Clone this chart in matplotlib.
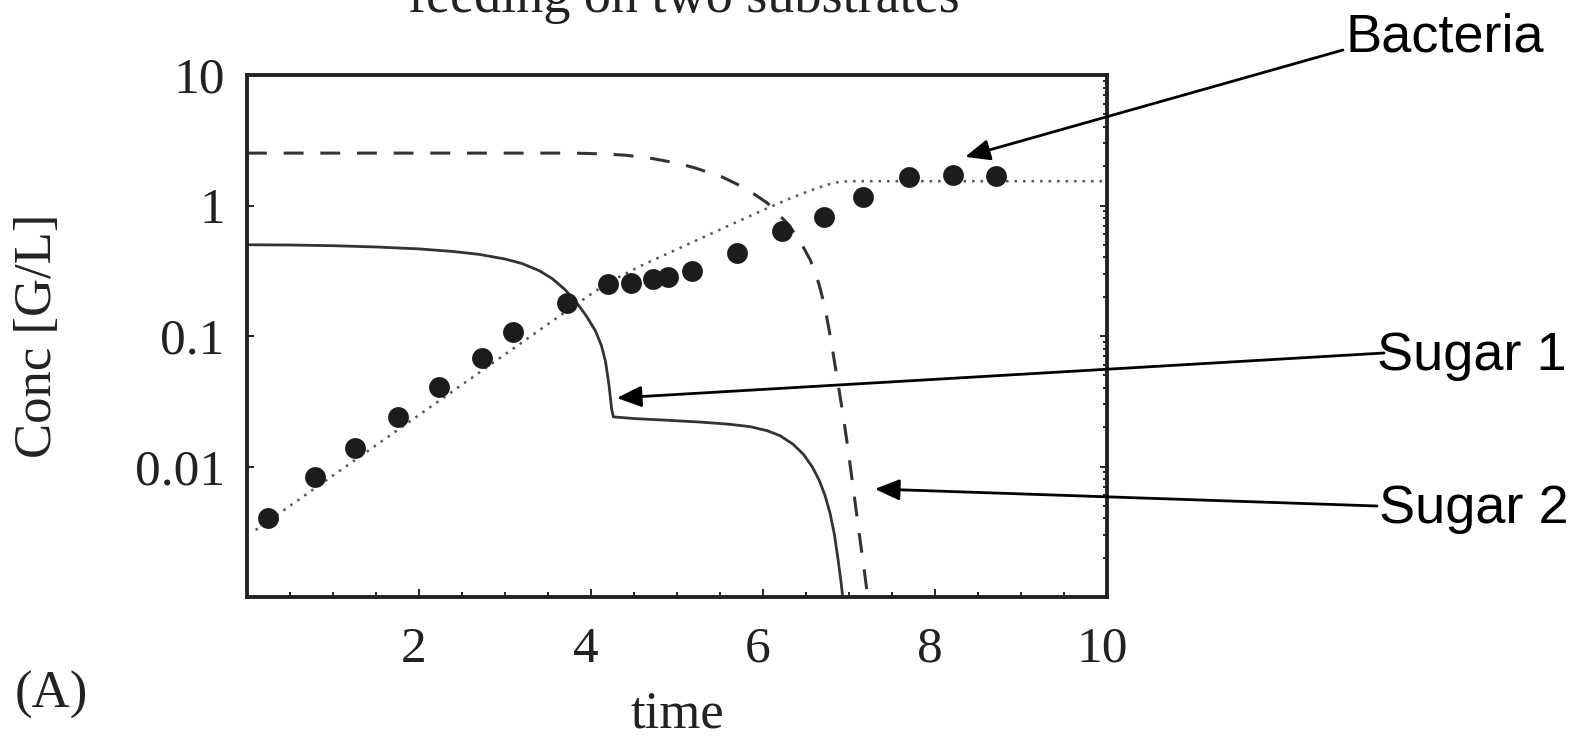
import matplotlib
matplotlib.use("Agg")
import matplotlib.pyplot as plt
from matplotlib.ticker import MultipleLocator, LogLocator, NullFormatter
from matplotlib.transforms import ScaledTranslation

plt.rcParams['font.family'] = ['Liberation Serif', 'DejaVu Serif']

# measured bacteria concentrations
bact_t = [0.24, 0.79, 1.26, 1.76, 2.23, 2.73, 3.09, 3.72, 4.20, 4.47,
          4.72, 4.90, 5.17, 5.70, 6.22, 6.71, 7.16, 7.70, 8.21, 8.71]
bact_c = [0.0040, 0.0083, 0.0139, 0.0239, 0.0406, 0.0677, 0.107, 0.179, 0.250, 0.255,
          0.273, 0.283, 0.315, 0.432, 0.638, 0.817, 1.16, 1.65, 1.71, 1.68]

# model curve for the bacteria (dotted)
model_t = [0.1, 1.0, 2.0, 3.0, 3.8, 4.2, 4.6, 5.0, 5.5, 6.0, 6.3, 6.55, 6.75, 6.88, 7.0, 10.0]
model_c = [0.00326, 0.00853, 0.0248, 0.0723, 0.170, 0.257, 0.350, 0.462, 0.653, 0.923,
           1.122, 1.303, 1.445, 1.514, 1.535, 1.535]

# sugar 1 (solid)
sug1_t = [0.0, 0.5, 1.0, 1.5, 2.0, 2.4, 2.7, 3.0, 3.2, 3.4, 3.55, 3.7, 3.85, 3.95, 4.05,
          4.12, 4.17, 4.21, 4.24, 4.26, 4.5, 4.84, 5.27, 5.6, 5.85, 6.05, 6.2, 6.35, 6.47,
          6.57, 6.65, 6.72, 6.78, 6.83, 6.87, 6.91, 6.935]
sug1_c = [0.500, 0.498, 0.492, 0.481, 0.465, 0.444, 0.422, 0.389, 0.359, 0.316, 0.275, 0.226,
          0.174, 0.141, 0.110, 0.0851, 0.0631, 0.0417, 0.0275, 0.0240, 0.0233, 0.0227, 0.0219,
          0.0211, 0.0202, 0.0188, 0.0172, 0.0148, 0.0124, 0.0100, 0.00794, 0.00603, 0.00437,
          0.00302, 0.00200, 0.00126, 0.00089]

# sugar 2 (dashed)
sug2_t = [0.0, 3.8, 4.1, 4.4, 4.7, 5.0, 5.2, 5.53, 5.8, 6.05, 6.28, 6.42, 6.55, 6.65,
          6.72, 6.79, 6.86, 6.93, 6.99, 7.05, 7.12, 7.18, 7.23]
sug2_c = [2.52, 2.52, 2.49, 2.43, 2.30, 2.11, 1.95, 1.65, 1.35, 1.045, 0.734, 0.550, 0.382,
          0.251, 0.166, 0.0933, 0.0485, 0.0251, 0.0134, 0.00676, 0.00302, 0.00155, 0.00087]

x_ticks = [2, 4, 6, 8, 10]
y_ticks = [10, 1, 0.1, 0.01]
y_labels = ['10', '1', '0.1', '0.01']

W, H = 1590, 736


def fx(px):
    return px / W


def fy(py):
    return 1 - py / H


fig = plt.figure(figsize=(W / 100, H / 100), dpi=100)
ax = fig.add_axes([fx(247), fy(597), 860 / W, 522 / H])

ax.plot(sug1_t, sug1_c, color='#333333', lw=2.0, zorder=2)
ax.plot(sug2_t, sug2_c, color='#333333', lw=2.2, linestyle=(0, (6.5, 5.5)), zorder=2)
ax.plot(model_t, model_c, color='#555555', lw=1.8, linestyle=(0, (1, 2.4)), zorder=2)
ax.plot(bact_t, bact_c, 'o', color='#1c1c1c', markersize=15, markeredgewidth=0, zorder=3)

ax.set_yscale('log')
ax.set_xlim(0, 10)
ax.set_ylim(1e-3, 10)

ax.set_xticks(x_ticks, [str(v) for v in x_ticks])
ax.xaxis.set_minor_locator(MultipleLocator(0.5))
ax.set_yticks(y_ticks, y_labels)
ax.yaxis.set_minor_locator(LogLocator(base=10, subs=range(2, 10)))
ax.yaxis.set_minor_formatter(NullFormatter())

ax.tick_params(axis='both', which='both', direction='in', colors='#222222', width=1.4,
               labelsize=37)
ax.tick_params(axis='x', which='both', top=False, bottom=True, pad=21)
ax.tick_params(axis='x', which='major', length=6)
ax.tick_params(axis='x', which='minor', length=3.5)
ax.tick_params(axis='y', which='major', left=True, right=True, length=5, pad=16)
ax.tick_params(axis='y', which='minor', left=False, right=True, length=3)

# x labels sit a little left of their ticks
shift = ScaledTranslation(-5 / 100, 0, fig.dpi_scale_trans)
for lab in ax.get_xticklabels():
    lab.set_transform(lab.get_transform() + shift)

for sp in ax.spines.values():
    sp.set_linewidth(2.8)
    sp.set_color('#222222')

# axis labels and panel text
fig.text(fx(38), fy(336), 'Conc [G/L]', rotation=90, ha='center', va='center',
         fontsize=38, color='#222222')
fig.text(fx(677), fy(727), 'time', ha='center', va='baseline', fontsize=38, color='#222222')
fig.text(fx(15), fy(708), '(A)', ha='left', va='baseline', fontsize=38, color='#222222')
fig.text(fx(684), fy(12), 'feeding on two substrates', ha='center', va='baseline',
         fontsize=39, color='#222222')

# callouts
arrow = dict(arrowstyle='-|>,head_length=0.75,head_width=0.32', color='black', lw=2,
             shrinkA=0, shrinkB=0, mutation_scale=20)
callouts = [
    ('Bacteria', (8.35, 2.36), (1343, 50), (1345, 51)),
    ('Sugar 1', (4.30, 0.0335), (1384, 353), (1377, 370)),
    ('Sugar 2', (7.30, 0.00673), (1377, 506), (1379, 523)),
]
for label, tip, tail, pos in callouts:
    ax.annotate('', xy=tip, xycoords='data', xytext=(fx(tail[0]), fy(tail[1])),
                textcoords='figure fraction', arrowprops=arrow, annotation_clip=False)
    fig.text(fx(pos[0]), fy(pos[1]), label, ha='left', va='baseline', fontsize=39,
             family=['Liberation Sans', 'DejaVu Sans'], color='black')

fig.savefig('out.png', dpi=100)
